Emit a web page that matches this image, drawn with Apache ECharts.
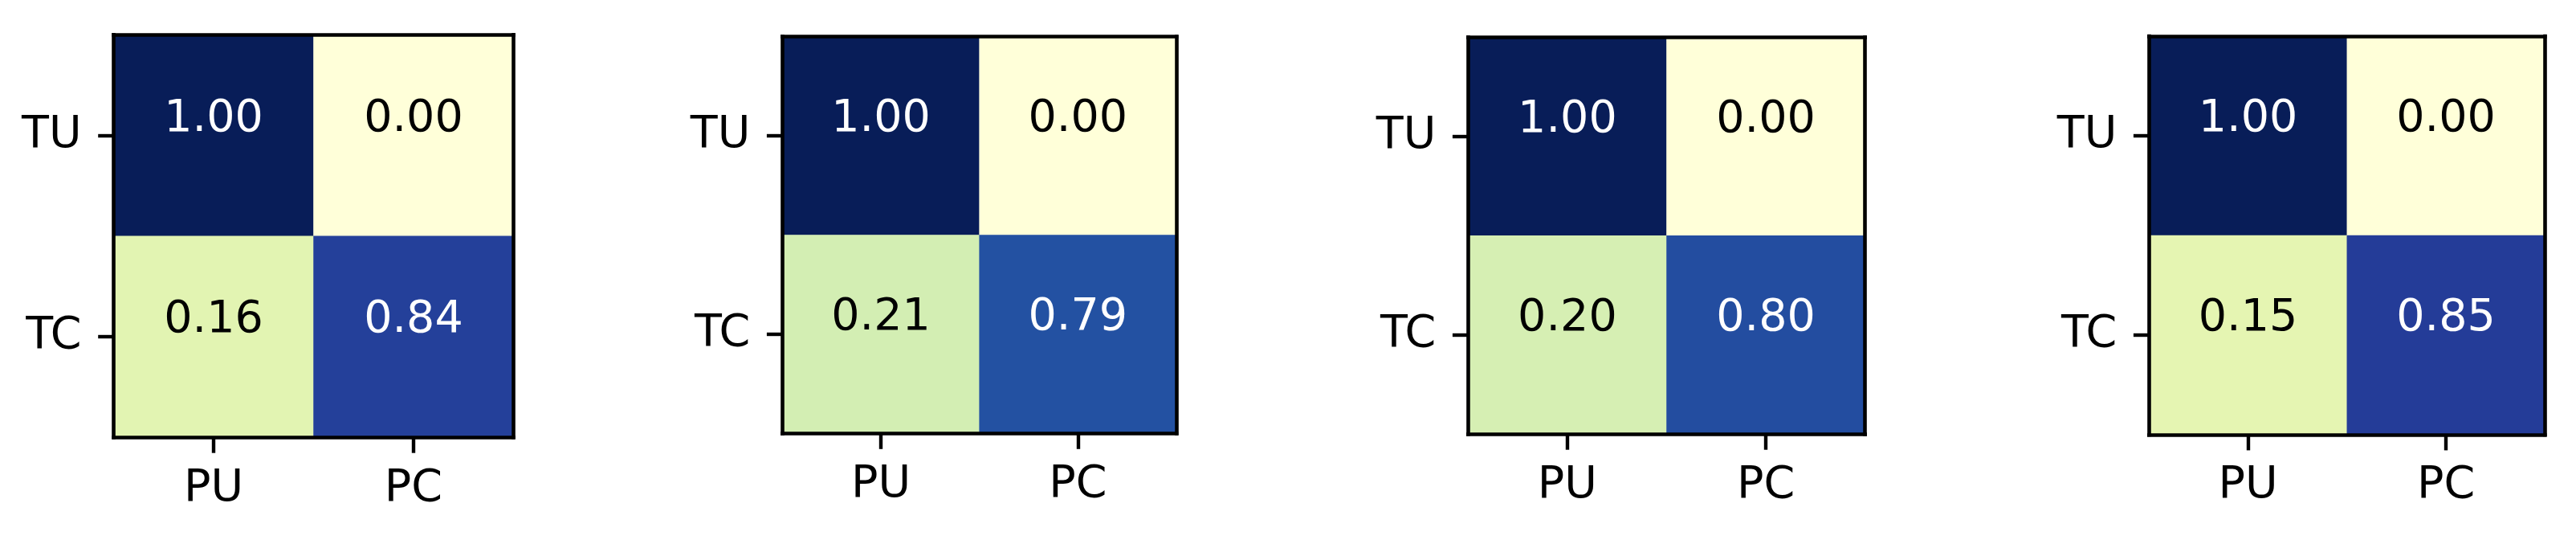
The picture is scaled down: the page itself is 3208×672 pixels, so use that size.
<!DOCTYPE html>
<html>
<head>
<meta charset="utf-8">
<script src="https://cdn.jsdelivr.net/npm/echarts@6/dist/echarts.min.js"></script>
<style>
  html, body { margin: 0; padding: 0; background: #fff; }
  #main { width: 3208px; height: 672px; }
</style>
</head>
<body>
<div id="main"></div>
<script>
var rowLabels = ["TU", "TC"];
var colLabels = ["PU", "PC"];

// each matrix: rows TU, TC ; columns PU, PC
var matrix1 = [[1.00, 0.00], [0.16, 0.84]];
var matrix2 = [[1.00, 0.00], [0.21, 0.79]];
var matrix3 = [[1.00, 0.00], [0.20, 0.80]];
var matrix4 = [[1.00, 0.00], [0.15, 0.85]];
var matrices = [matrix1, matrix2, matrix3, matrix4];

// YlGnBu
var cmap = ["#ffffd9", "#edf8b1", "#c7e9b4", "#7fcdbb", "#41b6c4", "#1d91c0", "#225ea8", "#253494", "#081d58"];

var grids = [
  { left: 141.6, top: 43.3, width: 497.8, height: 501 },
  { left: 974.3, top: 45.6, width: 490.7, height: 493.8 },
  { left: 1828.3, top: 46.3, width: 494.4, height: 494 },
  { left: 2676.3, top: 45, width: 493, height: 496 }
];

var font = "DejaVu Sans";
var fs = 55.5;
var spine = { show: true, lineStyle: { color: "#000", width: 4.6, cap: "square" } };

var chartDom = document.getElementById("main");
var myChart = echarts.init(chartDom);

var xAxes = [], yAxes = [], series = [];
matrices.forEach(function (m, i) {
  xAxes.push({
    type: "category", gridIndex: i, data: colLabels, position: "bottom", z: 10,
    axisLine: spine,
    axisTick: { show: true, alignWithLabel: true, length: 19.4, lineStyle: { color: "#000", width: 4.4 } },
    axisLabel: { color: "#000", fontFamily: font, fontSize: fs, margin: 36 },
    splitLine: { show: false }
  });
  xAxes.push({
    type: "category", gridIndex: i, data: colLabels, position: "top", z: 10,
    axisLine: spine, axisTick: { show: false }, axisLabel: { show: false }, splitLine: { show: false }
  });
  yAxes.push({
    type: "category", gridIndex: i, data: rowLabels, inverse: true, position: "left", z: 10,
    axisLine: spine,
    axisTick: { show: true, alignWithLabel: true, length: 19.4, lineStyle: { color: "#000", width: 4.4 } },
    axisLabel: { color: "#000", fontFamily: font, fontSize: fs, margin: 40 },
    splitLine: { show: false }
  });
  yAxes.push({
    type: "category", gridIndex: i, data: rowLabels, inverse: true, position: "right", z: 10,
    axisLine: spine, axisTick: { show: false }, axisLabel: { show: false }, splitLine: { show: false }
  });

  var data = [];
  m.forEach(function (row, r) {
    row.forEach(function (v, c) {
      data.push({
        value: [c, r, v],
        label: { color: v > 0.5 ? "#fff" : "#000" }
      });
    });
  });
  series.push({
    type: "heatmap",
    xAxisIndex: i * 2,
    yAxisIndex: i * 2,
    data: data,
    label: {
      show: true,
      fontFamily: font,
      fontSize: fs,
      offset: [0, -20],
      formatter: function (p) { return p.value[2].toFixed(2); }
    },
    emphasis: { disabled: true }
  });
});

var option = {
  backgroundColor: "#fff",
  animation: false,
  grid: grids.map(function (g) { return Object.assign({ containLabel: false }, g); }),
  xAxis: xAxes,
  yAxis: yAxes,
  visualMap: {
    show: false,
    min: 0,
    max: 1,
    dimension: 2,
    seriesIndex: [0, 1, 2, 3],
    inRange: { color: cmap }
  },
  series: series
};

option && myChart.setOption(option);
</script>
</body>
</html>
